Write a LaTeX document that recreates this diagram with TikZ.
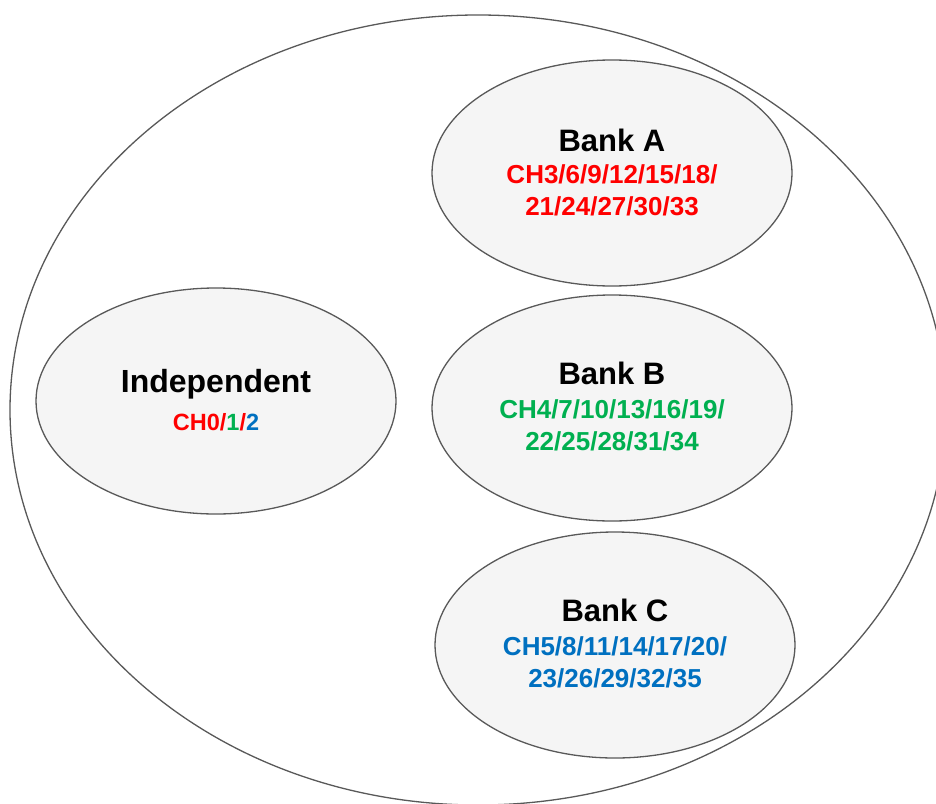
\documentclass[tikz,border=0pt]{standalone}
\usepackage{fontspec}
\setmainfont{Liberation Sans}
\usetikzlibrary{shapes.geometric}
\definecolor{edge}{HTML}{595959}
\definecolor{bubble}{HTML}{F5F5F5}
\definecolor{chred}{HTML}{FF0000}
\definecolor{chgreen}{HTML}{00B050}
\definecolor{chblue}{HTML}{0070C0}
\tikzset{
  bank/.style={ellipse, draw=edge, fill=bubble, line width=1.3pt, minimum width=360pt, minimum height=226pt, inner sep=0pt},
  title/.style={anchor=base, inner sep=0pt, font=\fontsize{31}{36}\selectfont\bfseries},
  chans/.style={anchor=base, inner sep=0pt, font=\fontsize{26}{32}\selectfont\bfseries},
}
\begin{document}
\begin{tikzpicture}[x=1pt,y=-1pt]
\useasboundingbox (0,0) rectangle (936,803);
\clip (0,0) rectangle (936,803);
\fill[white] (0,0) rectangle (936,803);
% outer region
\draw[edge, line width=1.3pt] (478,410) ellipse [x radius=468pt, y radius=395pt];
% ellipses
\node[bank] (ind) at (216,401) {};
\node[bank] (bka) at (612,173) {};
\node[bank] (bkb) at (612,408) {};
\node[bank] (bkc) at (615,645) {};
% Independent
\node[title, font=\fontsize{32}{36}\selectfont\bfseries] (indt) at (216,392) {Independent};
\node[anchor=base, inner sep=0pt, font=\fontsize{23.5}{28}\selectfont\bfseries] (indc) at (216,430)
  {\textcolor{chred}{CH0/}\textcolor{chgreen}{1}\textcolor{chred}{/}\textcolor{chblue}{2}};
% Bank A
\node[title] (bkat) at (612,151) {Bank A};
\node[chans, text=chred] (bka1) at (612,183) {CH3/6/9/12/15/18/};
\node[chans, text=chred] (bka2) at (612,215) {21/24/27/30/33};
% Bank B
\node[title] (bkbt) at (612,384) {Bank B};
\node[chans, text=chgreen] (bkb1) at (612,418) {CH4/7/10/13/16/19/};
\node[chans, text=chgreen] (bkb2) at (612,450) {22/25/28/31/34};
% Bank C
\node[title] (bkct) at (615,621) {Bank C};
\node[chans, text=chblue] (bkc1) at (615,655) {CH5/8/11/14/17/20/};
\node[chans, text=chblue] (bkc2) at (615,687) {23/26/29/32/35};
\end{tikzpicture}
\end{document}
